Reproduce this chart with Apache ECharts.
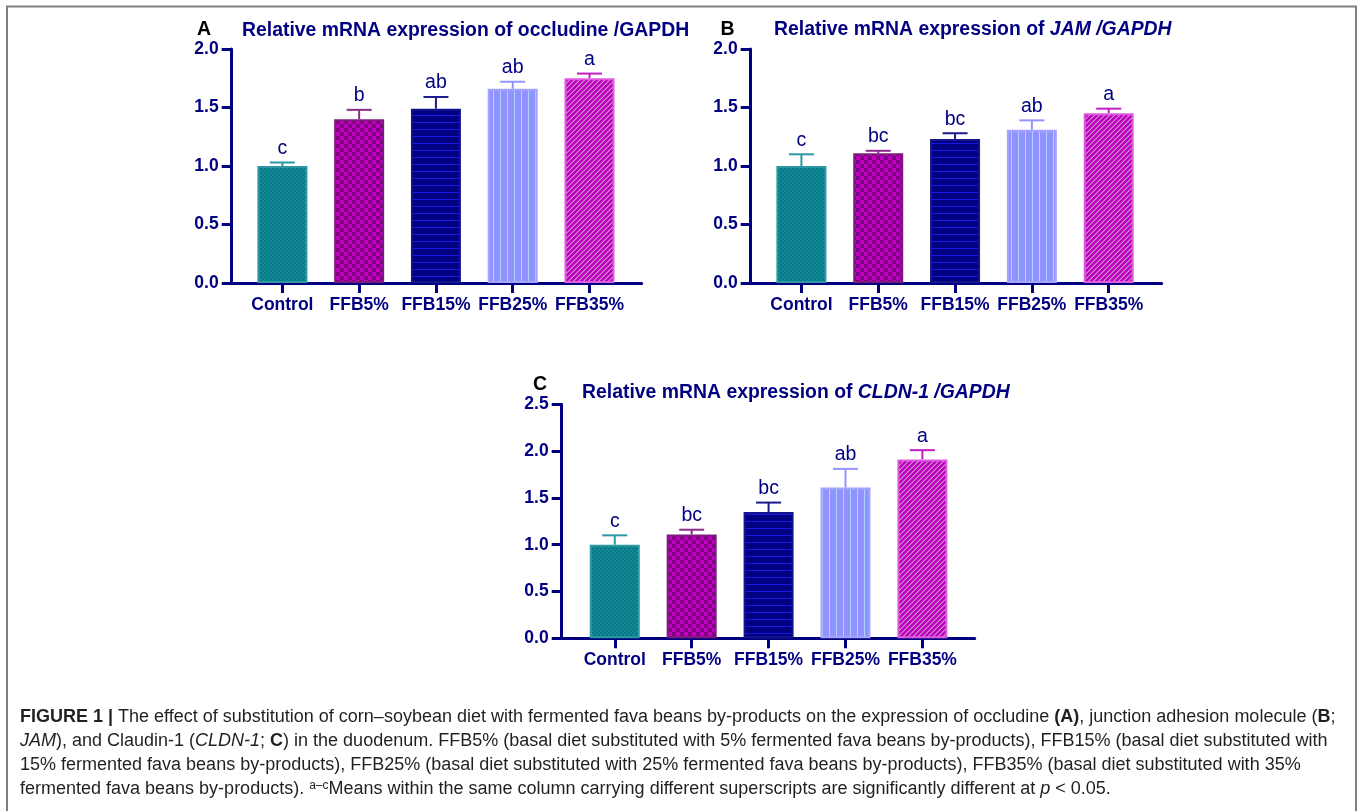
<!DOCTYPE html>
<html>
<head>
<meta charset="utf-8">
<title>Figure 1 - tight junction mRNA expression</title>
<script src="https://cdn.jsdelivr.net/npm/echarts@6/dist/echarts.min.js"></script>
<style>
  html, body { margin: 0; padding: 0; background: #ffffff; }
  #chart { width: 1358px; height: 811px; }
</style>
</head>
<body>
<div id="chart"></div>
<script>
// ---- data ----
const categories = ['Control', 'FFB5%', 'FFB15%', 'FFB25%', 'FFB35%'];

const occludineMean = [1.00, 1.40, 1.49, 1.66, 1.75];
const occludineSem = [0.03, 0.08, 0.10, 0.06, 0.04];
const occludineLetters = ['c', 'b', 'ab', 'ab', 'a'];

const jamMean = [1.00, 1.11, 1.23, 1.31, 1.45];
const jamSem = [0.10, 0.02, 0.05, 0.08, 0.04];
const jamLetters = ['c', 'bc', 'bc', 'ab', 'a'];

const cldnMean = [1.00, 1.11, 1.35, 1.61, 1.91];
const cldnSem = [0.10, 0.05, 0.10, 0.20, 0.10];
const cldnLetters = ['c', 'bc', 'bc', 'ab', 'a'];

const yMaxAB = 2.0;
const yMaxC = 2.5;
const yStep = 0.5;

// ---- styling ----
const NAVY = '#000080';
const FONT = '"Liberation Sans", Arial, sans-serif';
const borderColors = ['#2b98a3', '#7d1a7d', '#14148c', '#a4a4ff', '#de5ade'];
const errColors = ['#2b98a3', '#8a2a8a', '#1a1a8a', '#9494ff', '#c21cc2'];

/**
 * Builds a small repeating canvas tile used as a bar fill
 * @param {string} kind - pattern name
 * @returns {HTMLCanvasElement}
 */
function makeTile(kind) {
  const c = document.createElement('canvas');
  let ctx;
  if (kind === 'fineCheck') {
    c.width = 4; c.height = 4;
    ctx = c.getContext('2d');
    ctx.fillStyle = '#108a97'; ctx.fillRect(0, 0, 4, 4);
    ctx.fillStyle = '#0a7884';
    ctx.fillRect(0, 0, 2, 2); ctx.fillRect(2, 2, 2, 2);
  } else if (kind === 'check') {
    c.width = 8; c.height = 8;
    ctx = c.getContext('2d');
    ctx.fillStyle = '#c000c0'; ctx.fillRect(0, 0, 8, 8);
    ctx.fillStyle = '#80007f';
    ctx.fillRect(0, 0, 4, 4); ctx.fillRect(4, 4, 4, 4);
  } else if (kind === 'hlines') {
    c.width = 7; c.height = 7;
    ctx = c.getContext('2d');
    ctx.fillStyle = '#000080'; ctx.fillRect(0, 0, 7, 7);
    ctx.fillStyle = '#1818e0'; ctx.fillRect(0, 3, 7, 1);
  } else if (kind === 'vlines') {
    c.width = 7; c.height = 7;
    ctx = c.getContext('2d');
    ctx.fillStyle = '#9292ff'; ctx.fillRect(0, 0, 7, 7);
    ctx.fillStyle = '#acd6ff'; ctx.fillRect(3, 0, 1, 7);
  } else {
    c.width = 5; c.height = 5;
    ctx = c.getContext('2d');
    ctx.fillStyle = '#c000c0'; ctx.fillRect(0, 0, 5, 5);
    for (let x = 0; x < 5; x++) {
      for (let y = 0; y < 5; y++) {
        if ((x + y) % 5 === 4) { ctx.fillStyle = '#c894c8'; ctx.fillRect(x, y, 1, 1); }
        else if ((x + y) % 5 === 3) { ctx.fillStyle = '#c44ac4'; ctx.fillRect(x, y, 1, 1); }
      }
    }
  }
  return c;
}

const tiles = ['fineCheck', 'check', 'hlines', 'vlines', 'diag'].map(makeTile);

// ---- panel layout (px) ----
const panels = [
  { mean: occludineMean, sem: occludineSem, letters: occludineLetters, yMax: yMaxAB,
    left: 231.7, top: 49, width: 410, height: 234, xMin: -0.66, xMax: 4.68 },
  { mean: jamMean, sem: jamSem, letters: jamLetters, yMax: yMaxAB,
    left: 750.7, top: 49, width: 411, height: 234, xMin: -0.66, xMax: 4.69 },
  { mean: cldnMean, sem: cldnSem, letters: cldnLetters, yMax: yMaxC,
    left: 561.7, top: 404.3, width: 413, height: 234, xMin: -0.69, xMax: 4.68 }
];

const tickIdx = categories.map((_, i) => i);

const grid = panels.map(p => ({ left: p.left, top: p.top, width: p.width, height: p.height, containLabel: false }));

const xAxis = panels.map((p, i) => ({
  type: 'value', gridIndex: i, min: p.xMin, max: p.xMax,
  splitLine: { show: false },
  axisLine: { show: true, onZero: false, lineStyle: { color: NAVY, width: 3 } },
  axisTick: { show: true, customValues: tickIdx, length: 10, lineStyle: { color: NAVY, width: 3 } },
  axisLabel: {
    customValues: tickIdx, margin: 13,
    formatter: v => categories[Math.round(v)],
    color: NAVY, fontFamily: FONT, fontWeight: 'bold', fontSize: 17.5
  }
}));

const yAxis = panels.map((p, i) => ({
  type: 'value', gridIndex: i, min: 0, max: p.yMax, interval: yStep,
  splitLine: { show: false },
  axisLine: { show: true, onZero: false, lineStyle: { color: NAVY, width: 3 } },
  axisTick: { show: true, length: 10, lineStyle: { color: NAVY, width: 3 } },
  axisLabel: {
    margin: 13, formatter: v => v.toFixed(1),
    color: NAVY, fontFamily: FONT, fontWeight: 'bold', fontSize: 17.5
  }
}));

const series = [];
panels.forEach((p, i) => {
  series.push({
    type: 'bar', xAxisIndex: i, yAxisIndex: i, barWidth: 50, z: 3,
    data: p.mean.map((v, k) => ({
      value: [k, v],
      itemStyle: {
        color: { image: tiles[k], repeat: 'repeat' },
        borderColor: borderColors[k], borderWidth: 2
      }
    }))
  });
  series.push({
    type: 'custom', xAxisIndex: i, yAxisIndex: i, z: 2,
    data: p.mean.map((v, k) => [k, v, p.sem[k]]),
    renderItem: (params, api) => {
      const k = params.dataIndex;
      const base = api.coord([api.value(0), api.value(1)]);
      const top = api.coord([api.value(0), api.value(1) + api.value(2)]);
      const stroke = { stroke: errColors[k], lineWidth: 2 };
      return {
        type: 'group',
        children: [
          { type: 'line', shape: { x1: base[0], y1: base[1], x2: top[0], y2: top[1] }, style: stroke },
          { type: 'line', shape: { x1: top[0] - 12.5, y1: top[1], x2: top[0] + 12.5, y2: top[1] }, style: stroke },
          { type: 'text', x: top[0], y: top[1] - 4,
            style: { text: p.letters[k], align: 'center', verticalAlign: 'bottom',
                     fill: NAVY, font: '19.5px ' + FONT } }
        ]
      };
    }
  });
});

// ---- titles, panel letters, caption, frame ----
const titleRich = {
  n: { fontFamily: FONT, fontWeight: 'bold', fontSize: 19.4, fill: NAVY, color: NAVY },
  i: { fontFamily: FONT, fontWeight: 'bold', fontStyle: 'italic', fontSize: 19.4, fill: NAVY, color: NAVY }
};

function titleText(x, y, text) {
  return { type: 'text', x: x, y: y,
    style: { text: text, rich: titleRich, verticalAlign: 'middle', align: 'left' } };
}

function panelLetter(x, y, letter) {
  return { type: 'text', x: x, y: y,
    style: { text: letter, font: 'bold 19.5px ' + FONT, fill: '#000000', verticalAlign: 'middle' } };
}

const captionLines = [
  '{b|FIGURE 1 |} The effect of substitution of corn\u2013soybean diet with fermented fava beans by-products on the expression of occludine {b|(A)}, junction adhesion molecule ({b|B};',
  '{i|JAM}), and Claudin-1 ({i|CLDN-1}; {b|C}) in the duodenum. FFB5% (basal diet substituted with 5% fermented fava beans by-products), FFB15% (basal diet substituted with',
  '15% fermented fava beans by-products), FFB25% (basal diet substituted with 25% fermented fava beans by-products), FFB35% (basal diet substituted with 35%',
  'fermented fava beans by-products). {sup|a\u2013c}Means within the same column carrying different superscripts are significantly different at {i|p} < 0.05.'
];

const CAP = 18;
const capRich = {
  b: { fontFamily: FONT, fontWeight: 'bold', fontSize: CAP, fill: '#231f20' },
  i: { fontFamily: FONT, fontStyle: 'italic', fontSize: CAP, fill: '#231f20' },
  sup: { fontFamily: FONT, fontSize: 12, fill: '#231f20', verticalAlign: 'top' }
};

const captionEls = captionLines.map((line, k) => ({
  type: 'text', x: 20, y: 717 + k * 24,
  style: { text: line, rich: capRich, font: CAP + 'px ' + FONT, fill: '#231f20',
           verticalAlign: 'middle', align: 'left' }
}));

const graphic = [
  { type: 'polyline', shape: { points: [[7, 811], [7, 6.5], [1356, 6.5], [1356, 811]] },
    style: { stroke: '#7f7f7f', lineWidth: 2, fill: null } },
  panelLetter(197, 30, 'A'),
  titleText(242, 30.5, '{n|Relative mRNA expression of occludine /GAPDH}'),
  panelLetter(720.5, 30, 'B'),
  titleText(774, 30, '{n|Relative mRNA expression of }{i|JAM /GAPDH}'),
  panelLetter(533, 385, 'C'),
  titleText(582, 392.5, '{n|Relative mRNA expression of }{i|CLDN-1 /GAPDH}')
].concat(captionEls);

const chart = echarts.init(document.getElementById('chart'), null, { renderer: 'canvas' });
chart.setOption({
  animation: false,
  backgroundColor: '#ffffff',
  grid: grid,
  xAxis: xAxis,
  yAxis: yAxis,
  series: series,
  graphic: graphic
});
</script>
</body>
</html>
